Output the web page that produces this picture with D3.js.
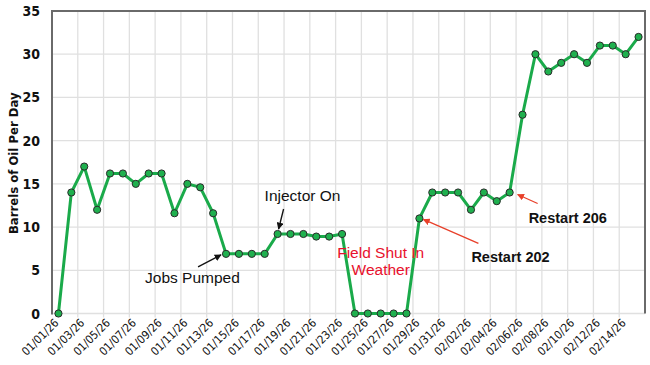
<!DOCTYPE html>
<html>
<head>
<meta charset="utf-8">
<script src="https://cdn.jsdelivr.net/npm/d3@7"></script>
<style>
  body { margin: 0; background: #fff; }
  .tick-y { font-family: "DejaVu Sans", sans-serif; font-stretch: condensed; font-weight: bold; font-size: 14px; }
  .tick-x { font-family: "DejaVu Sans", sans-serif; font-stretch: condensed; font-size: 11.5px; }
  .note { font-family: "Liberation Sans", Arial, sans-serif; font-size: 15.5px; }
</style>
</head>
<body>
<div id="chart"></div>
<script>
// daily values, 01/01/26 .. 02/15/26
dates = [
  "01/01/26","01/02/26","01/03/26","01/04/26","01/05/26","01/06/26","01/07/26","01/08/26",
  "01/09/26","01/10/26","01/11/26","01/12/26","01/13/26","01/14/26","01/15/26","01/16/26",
  "01/17/26","01/18/26","01/19/26","01/20/26","01/21/26","01/22/26","01/23/26","01/24/26",
  "01/25/26","01/26/26","01/27/26","01/28/26","01/29/26","01/30/26","01/31/26","02/01/26",
  "02/02/26","02/03/26","02/04/26","02/05/26","02/06/26","02/07/26","02/08/26","02/09/26",
  "02/10/26","02/11/26","02/12/26","02/13/26","02/14/26","02/15/26"
];
oil = [
  0, 14, 17, 12, 16.2, 16.2, 15, 16.2,
  16.2, 11.6, 15, 14.6, 11.6, 6.9, 6.9, 6.9,
  6.9, 9.2, 9.2, 9.2, 8.9, 8.9, 9.2, 0,
  0, 0, 0, 0, 11, 14, 14, 14,
  12, 14, 13, 14, 23, 30, 28, 29,
  30, 29, 31, 31, 30, 32
];
yTicks = [0, 5, 10, 15, 20, 25, 30, 35];
yTitle = "Barrels of Oil Per Day";

let W = 650, H = 365;
let margin = { top: 11, right: 5, bottom: 51.5, left: 52 };
let width = W - margin.left - margin.right,
    height = H - margin.top - margin.bottom;

let svg = d3.select("#chart").append("svg")
  .attr("width", W)
  .attr("height", H);

let g = svg.append("g")
  .attr("transform", "translate(" + margin.left + "," + margin.top + ")");

let x = d3.scaleBand()
  .domain(dates)
  .range([0, width]);
let bw = x.bandwidth();
let cx = d => x(d) + bw / 2;

let y = d3.scaleLinear()
  .domain([0, 35])
  .range([height, 0]);

// gridlines
g.selectAll(".hgrid")
  .data(yTicks)
  .enter().append("line")
  .attr("x1", 0).attr("x2", width)
  .attr("y1", d => y(d)).attr("y2", d => y(d))
  .attr("stroke", "#e0e0e0")
  .attr("stroke-width", 1.3);

g.selectAll(".vgrid")
  .data(dates.filter((d, i) => i % 2 == 0 && i > 0))
  .enter().append("line")
  .attr("x1", d => x(d)).attr("x2", d => x(d))
  .attr("y1", 0).attr("y2", height + 4)
  .attr("stroke", "#e0e0e0")
  .attr("stroke-width", 1.3);

// frame: left, top, right dark
g.append("path")
  .attr("d", "M0," + (height + 1) + "V0H" + width + "V" + height)
  .attr("fill", "none")
  .attr("stroke", "#6a6a6a")
  .attr("stroke-width", 2);

// y tick labels
g.selectAll(".tick-y")
  .data(yTicks)
  .enter().append("text")
  .attr("class", "tick-y")
  .attr("x", -12)
  .attr("y", d => y(d))
  .attr("dy", "0.36em")
  .attr("text-anchor", "end")
  .attr("fill", "#111")
  .text(d => d);

// y title
g.append("text")
  .attr("class", "tick-y")
  .style("font-size", "13px")
  .attr("transform", "translate(" + (18 - margin.left) + "," + (y(17.5) + 1) + ") rotate(-90)")
  .attr("text-anchor", "middle")
  .attr("fill", "#111")
  .text(yTitle);

// x tick labels, every other day
g.selectAll(".tick-x")
  .data(dates.filter((d, i) => i % 2 == 0))
  .enter().append("text")
  .attr("class", "tick-x")
  .attr("text-anchor", "end")
  .attr("fill", "#111")
  .attr("transform", d => "translate(" + (cx(d) + 1) + "," + (height + 10) + ") rotate(-45)")
  .text(d => d);

// line
let line = d3.line()
  .x((d, i) => cx(dates[i]))
  .y(d => y(d));

g.append("path")
  .datum(oil)
  .attr("d", line)
  .attr("fill", "none")
  .attr("stroke", "#1aaa4a")
  .attr("stroke-width", 3)
  .attr("stroke-linejoin", "round");

g.selectAll(".dot")
  .data(oil)
  .enter().append("circle")
  .attr("cx", (d, i) => cx(dates[i]))
  .attr("cy", d => y(d))
  .attr("r", 3.6)
  .attr("fill", "#1fb04e")
  .attr("stroke", "#2a2a2a")
  .attr("stroke-width", 1);

// annotations
let defs = svg.append("defs");
[["blk", "#111"], ["red", "#e8402a"]].forEach(function(m) {
  defs.append("marker")
    .attr("id", "arr-" + m[0])
    .attr("viewBox", "0 0 10 10")
    .attr("refX", 9).attr("refY", 5)
    .attr("markerWidth", 7).attr("markerHeight", 7)
    .attr("markerUnits", "userSpaceOnUse")
    .attr("orient", "auto")
    .append("path")
    .attr("d", "M0,0L10,5L0,10z")
    .attr("fill", m[1]);
});

function arrow(x1, y1, x2, y2, col) {
  g.append("line")
    .attr("x1", x1).attr("y1", y1)
    .attr("x2", x2).attr("y2", y2)
    .attr("stroke", col == "red" ? "#e8402a" : "#111")
    .attr("stroke-width", 1.3)
    .attr("marker-end", "url(#arr-" + col + ")");
}

// Jobs Pumped -> 01/14
let px = cx("01/14/26"), py = y(oil[13]);
arrow(px - 28, py + 13, px - 5, py + 1, "blk");
g.append("text").attr("class", "note")
  .attr("x", px - 81).attr("y", py + 29)
  .attr("fill", "#111").text("Jobs Pumped");

// Injector On -> 01/18
px = cx("01/18/26"); py = y(oil[17]);
arrow(px + 6, py - 25, px + 1, py - 5, "blk");
g.append("text").attr("class", "note")
  .attr("x", px - 13).attr("y", py - 33)
  .attr("fill", "#111").text("Injector On");

// Field shut in
px = (cx("01/24/26") + cx("01/28/26")) / 2;
g.append("text").attr("class", "note")
  .attr("x", px).attr("y", y(6.9) + 4)
  .attr("text-anchor", "middle")
  .attr("fill", "#e8112d").text("Field Shut In");
g.append("text").attr("class", "note")
  .attr("x", px).attr("y", y(6.9) + 21)
  .attr("text-anchor", "middle")
  .attr("fill", "#e8112d").text("Weather");

// Restart 202 -> 01/29
px = cx("01/29/26"); py = y(oil[28]);
arrow(px + 59, py + 25, px + 4, py + 1, "red");
g.append("text").attr("class", "note")
  .style("font-weight", "bold").style("font-size", "14.5px")
  .attr("x", px + 52).attr("y", py + 44)
  .attr("fill", "#111").text("Restart 202");

// Restart 206 -> 02/05
px = cx("02/05/26"); py = y(oil[35]);
arrow(px + 28, py + 11, px + 8, py + 2, "red");
g.append("text").attr("class", "note")
  .style("font-weight", "bold").style("font-size", "14.5px")
  .attr("x", px + 19).attr("y", py + 30)
  .attr("fill", "#111").text("Restart 206");
</script>
</body>
</html>
